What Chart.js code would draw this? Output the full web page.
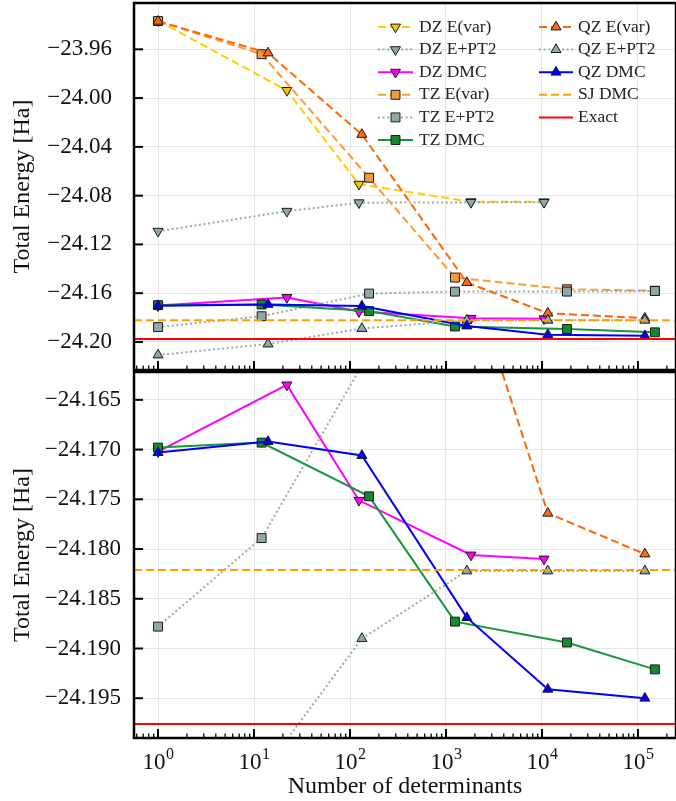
<!DOCTYPE html>
<html>
<head>
<meta charset="utf-8">
<script src="https://cdn.jsdelivr.net/npm/chart.js@4.4.1/dist/chart.umd.min.js"></script>
<style>
  html, body { margin: 0; padding: 0; background: #fff; }
  #wrap { position: relative; width: 676px; height: 801px; overflow: hidden; }
  #topChart { position: absolute; left: 0; top: 0; }
  #botChart { position: absolute; left: 0; top: 371px; }
</style>
</head>
<body>
<div id="wrap">
  <canvas id="topChart" width="676" height="372"></canvas>
  <canvas id="botChart" width="676" height="430"></canvas>
</div>
<script>
// x axis (number of determinants, log scale)
const X_MIN = 0.562;
const X_MAX = 249000;
const X_MAJOR = [1, 10, 100, 1000, 10000, 100000];
const X_EXPONENTS = ["0", "1", "2", "3", "4", "5"];

// y ranges of the two panels
const TOP_Y_MIN = -24.223;
const TOP_Y_MAX = -23.922;
const TOP_Y_TICKS = [-24.20, -24.16, -24.12, -24.08, -24.04, -24.00, -23.96];
const BOT_Y_MIN = -24.199;
const BOT_Y_MAX = -24.1622;
const BOT_Y_TICKS = [-24.195, -24.190, -24.185, -24.180, -24.175, -24.170, -24.165];

// determinant counts per basis
const DZ_X = [1, 22, 124, 1820, 10500];
const TZ_X = [1, 12, 158, 1240, 18200, 150000];
const QZ_X = [1, 14, 133, 1650, 11500, 118000];

// energies (Ha)
const DZ_EVAR = [-23.9365, -23.9937, -24.0706, -24.0850, -24.0851];
const DZ_PT2 = [-24.1092, -24.0928, -24.0858, -24.0855, -24.0855];
const DZ_DMC = [-24.1702, -24.1635, -24.1751, -24.1806, -24.1810];
const TZ_EVAR = [-23.9368, -23.9640, -24.0653, -24.1472, -24.1568, -24.1580];
const TZ_PT2 = [-24.1878, -24.1789, -24.1603, -24.1587, -24.1587, -24.1582];
const TZ_DMC = [-24.1698, -24.1693, -24.1747, -24.1873, -24.1894, -24.1921];
const QZ_EVAR = [-23.9370, -23.9630, -24.0298, -24.1513, -24.1764, -24.1805];
const QZ_PT2 = [-24.2107, -24.2017, -24.1890, -24.1822, -24.1822, -24.1822];
const QZ_DMC = [-24.1703, -24.1692, -24.1706, -24.1869, -24.1941, -24.1950];
const SJ_DMC = -24.1821;
const EXACT = -24.1976;

const DASH = [8, 4];
const DOT = [2, 2.6];
const GRAY = "#93adad";
const FONT = "Liberation Serif";

const SERIES = [
  { label: "DZ E(var)", x: DZ_X, y: DZ_EVAR, line: "#ffcc00", fill: "#f5c400", dash: DASH, marker: "down" },
  { label: "DZ E+PT2", x: DZ_X, y: DZ_PT2, line: GRAY, fill: "#8fa9a9", dash: DOT, marker: "down" },
  { label: "DZ DMC", x: DZ_X, y: DZ_DMC, line: "#ff00ff", fill: "#ff00ff", dash: [], marker: "down" },
  { label: "TZ E(var)", x: TZ_X, y: TZ_EVAR, line: "#ff9933", fill: "#f79a3e", dash: DASH, marker: "square" },
  { label: "TZ E+PT2", x: TZ_X, y: TZ_PT2, line: GRAY, fill: "#8fa9a9", dash: DOT, marker: "square" },
  { label: "TZ DMC", x: TZ_X, y: TZ_DMC, line: "#18963a", fill: "#138a2f", dash: [], marker: "square" },
  { label: "QZ E(var)", x: QZ_X, y: QZ_EVAR, line: "#ff6600", fill: "#ff6a10", dash: DASH, marker: "up" },
  { label: "QZ E+PT2", x: QZ_X, y: QZ_PT2, line: GRAY, fill: "#8fa9a9", dash: DOT, marker: "up" },
  { label: "QZ DMC", x: QZ_X, y: QZ_DMC, line: "#0000ff", fill: "#0000ff", dash: [], marker: "up" },
  { label: "SJ DMC", x: [X_MIN, X_MAX], y: [SJ_DMC, SJ_DMC], line: "#ffa000", dash: DASH, marker: null },
  { label: "Exact", x: [X_MIN, X_MAX], y: [EXACT, EXACT], line: "#ff0000", dash: [], marker: null }
];

const X_MINOR = [];
for (let e = -1; e <= 5; e++) {
  for (let m = 2; m <= 9; m++) {
    const v = m * Math.pow(10, e);
    if (v > X_MIN && v < X_MAX) X_MINOR.push(v);
  }
}

function markerStyle(marker) {
  if (marker === "square") return { pointStyle: "rect", rotation: 0, radius: 6.3 };
  if (marker === "down") return { pointStyle: "triangle", rotation: 180, radius: 5.8 };
  return { pointStyle: "triangle", rotation: 0, radius: 5.8 };
}

function makeDatasets() {
  return SERIES.map((s, i) => {
    const m = s.marker ? markerStyle(s.marker) : { pointStyle: "circle", rotation: 0, radius: 0 };
    return {
      label: s.label,
      data: s.x.map((x, k) => ({ x, y: s.y[k] })),
      borderColor: s.line,
      borderWidth: 2,
      borderDash: s.dash,
      borderCapStyle: "butt",
      tension: 0,
      fill: false,
      pointStyle: m.pointStyle,
      pointRotation: m.rotation,
      pointRadius: m.radius,
      pointHoverRadius: m.radius,
      pointBackgroundColor: s.fill || s.line,
      pointBorderColor: "#1a1a1a",
      pointBorderWidth: 1,
      order: SERIES.length - i,
      clip: 0
    };
  });
}

// inward ticks + black frame, drawn over the data like matplotlib spines
const frameTicks = {
  id: "frameTicks",
  afterDraw(chart) {
    const { ctx, chartArea: a, scales } = chart;
    const seg = (x1, y1, x2, y2) => { ctx.beginPath(); ctx.moveTo(x1, y1); ctx.lineTo(x2, y2); ctx.stroke(); };
    ctx.save();
    ctx.setLineDash([]);
    ctx.strokeStyle = "#000";
    ctx.lineWidth = 1.3;
    X_MINOR.forEach((v) => { const px = scales.x.getPixelForValue(v); seg(px, a.bottom, px, a.bottom - 4.5); });
    ctx.lineWidth = 2;
    X_MAJOR.forEach((v) => { const px = scales.x.getPixelForValue(v); seg(px, a.bottom, px, a.bottom - 9); });
    scales.y.ticks.forEach((t) => { const py = scales.y.getPixelForValue(t.value); seg(a.left, py, a.left + 9, py); });
    ctx.lineWidth = 2.5;
    ctx.strokeRect(a.left, a.top, a.right - a.left, a.bottom - a.top);
    ctx.restore();
  }
};

// 10^n labels under the bottom panel (base + raised exponent)
const powerLabels = {
  id: "powerLabels",
  afterDraw(chart) {
    const { ctx, chartArea: a, scales } = chart;
    ctx.save();
    ctx.fillStyle = "#111";
    ctx.textBaseline = "alphabetic";
    X_MAJOR.forEach((v, i) => {
      const px = scales.x.getPixelForValue(v);
      ctx.font = `23px "${FONT}"`;
      const wBase = ctx.measureText("10").width;
      ctx.font = `16px "${FONT}"`;
      const wExp = ctx.measureText(X_EXPONENTS[i]).width;
      const left = px - (wBase + wExp) / 2;
      ctx.font = `23px "${FONT}"`;
      ctx.textAlign = "left";
      ctx.fillText("10", left, a.bottom + 31);
      ctx.font = `16px "${FONT}"`;
      ctx.fillText(X_EXPONENTS[i], left + wBase + 0.5, a.bottom + 21);
    });
    ctx.restore();
  }
};

// two-column legend like the matplotlib one (no frame)
const legendCols = {
  id: "legendCols",
  afterDraw(chart) {
    const { ctx } = chart;
    const cols = [{ x1: 378, x2: 413, tx: 419 }, { x1: 539, x2: 573, tx: 578 }];
    ctx.save();
    ctx.font = `17.5px "${FONT}"`;
    ctx.textBaseline = "middle";
    ctx.textAlign = "left";
    chart.data.datasets.forEach((ds, i) => {
      const c = cols[i < 6 ? 0 : 1];
      const y = 27 + (i < 6 ? i : i - 6) * 22.6;
      ctx.strokeStyle = ds.borderColor;
      ctx.lineWidth = ds.borderWidth;
      ctx.setLineDash(ds.borderDash);
      ctx.beginPath();
      ctx.moveTo(c.x1, y);
      ctx.lineTo(c.x2, y);
      ctx.stroke();
      ctx.setLineDash([]);
      if (ds.pointRadius > 0) {
        ctx.fillStyle = ds.pointBackgroundColor;
        ctx.strokeStyle = ds.pointBorderColor;
        ctx.lineWidth = 1;
        Chart.helpers.drawPoint(ctx, {
          pointStyle: ds.pointStyle, rotation: ds.pointRotation, radius: ds.pointRadius, borderWidth: 1
        }, (c.x1 + c.x2) / 2, y);
      }
      ctx.fillStyle = "#222";
      ctx.fillText(ds.label, c.tx, y);
    });
    ctx.restore();
  }
};

function buildOptions(yMin, yMax, yTicks, decimals, isBottom) {
  return {
    responsive: false,
    animation: false,
    events: [],
    layout: { autoPadding: false, padding: { left: 0, right: 0, top: isBottom ? 1 : 3, bottom: 0 } },
    plugins: { legend: { display: false }, tooltip: { enabled: false } },
    scales: {
      x: {
        type: "logarithmic",
        min: X_MIN,
        max: X_MAX,
        afterBuildTicks: (s) => { s.ticks = X_MAJOR.map((v) => ({ value: v, major: true })); },
        afterFit: (s) => {
          s.height = isBottom ? 63 : 2;
          s.paddingLeft = 0;
          s.paddingRight = 0;
        },
        grid: { color: "#e6e6e6", lineWidth: 1, drawTicks: false },
        border: { display: false },
        ticks: { display: false },
        title: {
          display: isBottom,
          text: "Number of determinants",
          color: "#111",
          font: { family: FONT, size: 24 },
          padding: { top: 0, bottom: 0 }
        }
      },
      y: {
        type: "linear",
        min: yMin,
        max: yMax,
        afterBuildTicks: (s) => { s.ticks = yTicks.map((v) => ({ value: v })); },
        afterFit: (s) => {
          s.width = 134;
          s.paddingTop = 0;
          s.paddingBottom = 0;
        },
        grid: { color: "#e6e6e6", lineWidth: 1, drawTicks: false },
        border: { display: false },
        ticks: {
          color: "#111",
          font: { family: FONT, size: 23 },
          padding: isBottom ? 13 : 22,
          callback: (v) => v.toFixed(decimals).replace("-", "\u2212")
        },
        title: {
          display: true,
          text: "Total Energy [Ha]",
          color: "#111",
          font: { family: FONT, size: 24 },
          padding: { top: 8, bottom: 0 }
        }
      }
    }
  };
}

new Chart(document.getElementById("topChart"), {
  type: "line",
  data: { datasets: makeDatasets() },
  options: buildOptions(TOP_Y_MIN, TOP_Y_MAX, TOP_Y_TICKS, 2, false),
  plugins: [frameTicks, legendCols]
});

new Chart(document.getElementById("botChart"), {
  type: "line",
  data: { datasets: makeDatasets() },
  options: buildOptions(BOT_Y_MIN, BOT_Y_MAX, BOT_Y_TICKS, 3, true),
  plugins: [frameTicks, powerLabels]
});
</script>
</body>
</html>
